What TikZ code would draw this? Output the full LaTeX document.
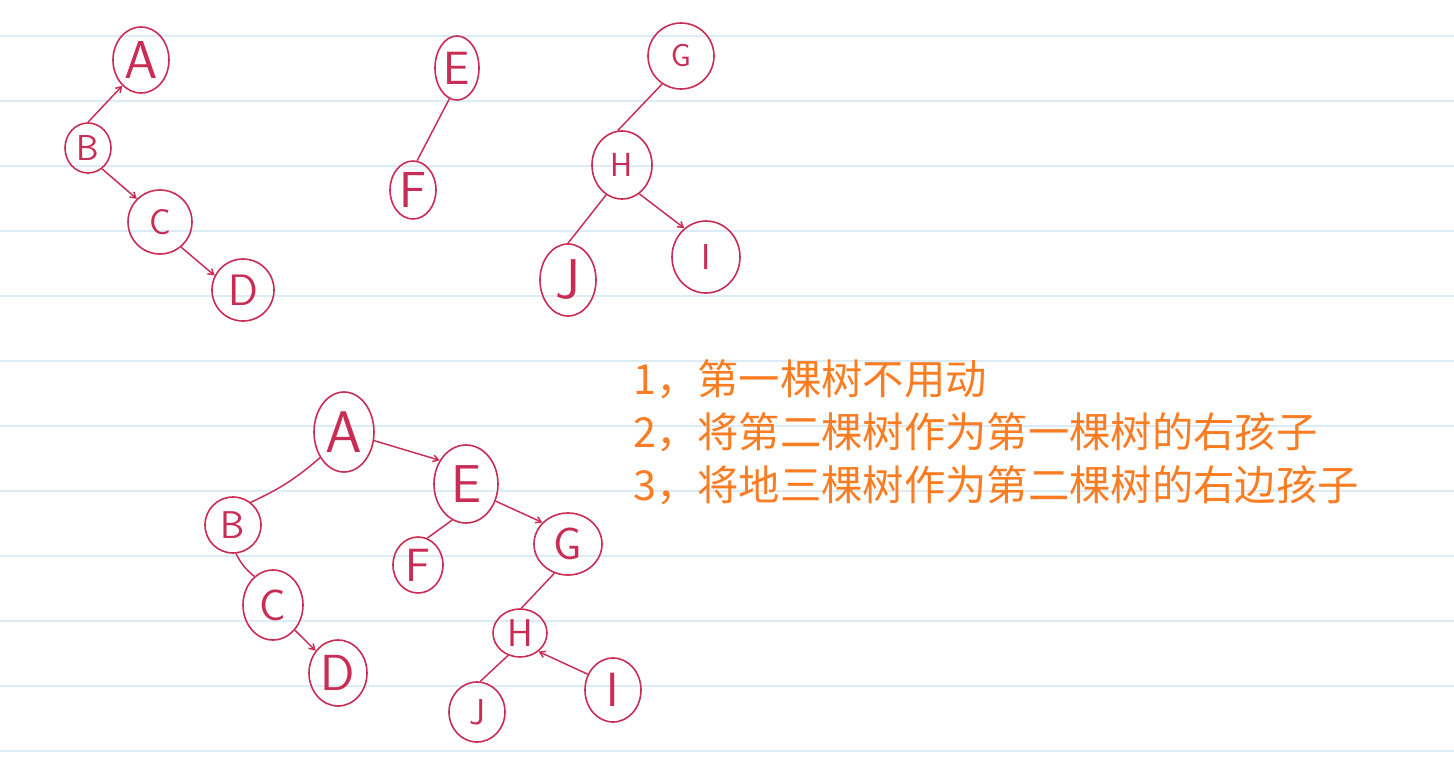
\documentclass[tikz,border=0pt]{standalone}
\usepackage{fontspec}
\newfontfamily\cjk{Noto Sans CJK SC}
\usetikzlibrary{shapes.geometric,arrows.meta}
\definecolor{ink}{RGB}{200,45,85}
\definecolor{rulecol}{RGB}{220,236,247}
\definecolor{org}{RGB}{250,125,35}
\begin{document}
\begin{tikzpicture}[x=0.75pt,y=-0.75pt,
  nd/.style n args={3}{ellipse, draw=ink, line width=1.2pt, inner sep=0pt,
    minimum width=#1*0.75pt, minimum height=#2*0.75pt, text=ink,
    font=\sffamily\fontsize{#3}{#3}\selectfont},
  edge/.style={draw=ink, line width=1.1pt},
  arr/.style={edge, -{Straight Barb[length=4pt,width=5pt]}},
  txt/.style={anchor=base west, text=org, inner sep=0pt,
    font=\cjk\fontsize{31}{31}\selectfont}]
\fill[white] (0,0) rectangle (1454,764);
\useasboundingbox (0,0) rectangle (1454,764);
\foreach \y in {36,101,166,231,296,361,426,491,556,621,686,751}
  \draw[rulecol, line width=1.6pt] (0,\y) -- (1454,\y);

% top: first tree
\node[nd={56}{66}{40}] (A1) at (141,60) {A};
\node[nd={46}{50}{27}] (B1) at (88,148) {B};
\node[nd={64}{64}{27}] (C1) at (160,222) {C};
\node[nd={62}{62}{33}] (D1) at (243,290) {D};
% top: second tree
\node[nd={44}{64}{35}] (E1) at (457,68) {E};
\node[nd={46}{58}{38}] (F1) at (413,190) {F};
% top: third tree
\node[nd={66}{66}{24}] (G1) at (681,56) {G};
\node[nd={60}{68}{25}] (H1) at (622,165) {H};
\node[nd={68}{72}{27}] (I1) at (706,257) {I};
\node[nd={56}{72}{42}] (J1) at (568,280) {J};

\draw[arr] (B1.90) -- (A1.234);
\draw[arr] (B1.304) -- (C1.135);
\draw[arr] (C1.310) -- (D1.153);
\draw[edge] (E1.256) -- (F1.82);
\draw[edge] (G1.236) -- (H1.97);
\draw[edge] (H1.242) -- (J1.90);
\draw[arr] (H1.301) -- (I1.127);

% bottom: combined tree
\node[nd={60}{80}{44}] (A2) at (344,432) {A};
\node[nd={56}{56}{29}] (B2) at (233,525) {B};
\node[nd={60}{70}{33}] (C2) at (273,605) {C};
\node[nd={58}{66}{38}] (D2) at (338,673) {D};
\node[nd={64}{78}{40}] (E2) at (466,484) {E};
\node[nd={50}{56}{35}] (F2) at (418,565) {F};
\node[nd={68}{62}{34}] (G2) at (568,544) {G};
\node[nd={54}{48}{29}] (H2) at (520,633) {H};
\node[nd={56}{60}{27}] (J2) at (477,712) {J};
\node[nd={56}{64}{36}] (I2) at (613,690) {I};

\draw[edge] (A2.227) to[bend left=8] (B2.52);
\draw[arr] (A2.344) -- (E2.138);
\draw[edge] (B2.276) to[bend right=12] (C2.123);
\draw[arr] (C2.311) -- (D2.135);
\draw[edge] (E2.249) -- (F2.71);
\draw[arr] (E2.330) -- (G2.140);
\draw[edge] (G2.245) -- (H2.87);
\draw[edge] (H2.242) -- (J2.84);
\draw[arr] (I2.148) -- (H2.315);

% text
\node[txt] (t1) at (633,394) {1，第一棵树不用动};
\node[txt] (t2) at (633,447) {2，将第二棵树作为第一棵树的右孩子};
\node[txt] (t3) at (633,500) {3，将地三棵树作为第二棵树的右边孩子};
\end{tikzpicture}
\end{document}
